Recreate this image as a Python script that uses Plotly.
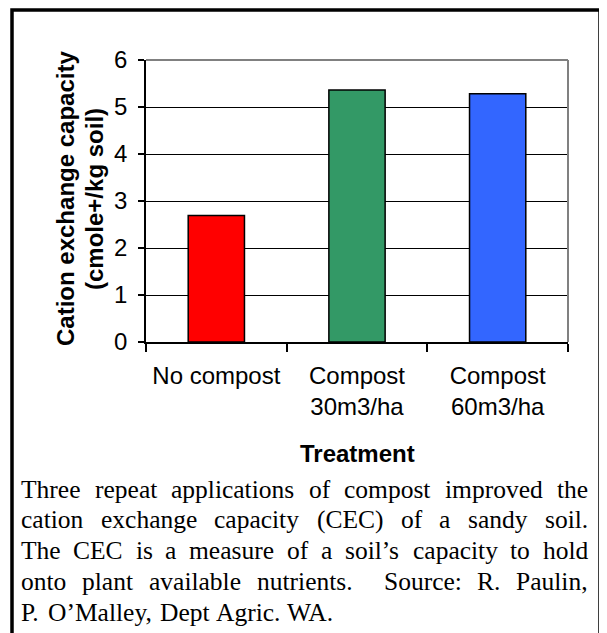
import plotly.graph_objects as go

# ---------------- data ----------------
categories = ["No compost", "Compost<br>30m3/ha", "Compost<br>60m3/ha"]
cec_values = [2.69, 5.36, 5.28]
bar_colors = ["#FF0000", "#339966", "#3366FF"]
y_tick_values = [0, 1, 2, 3, 4, 5, 6]
y_title_lines = ["Cation exchange capacity", "(cmole+/kg soil)"]
x_title = "Treatment"
caption_lines = [
    "Three repeat applications of compost improved the",
    "cation exchange capacity (CEC) of a sandy soil.",
    "The CEC is a measure of a soil\u2019s capacity to hold",
    "onto plant available nutrients.  Source: R. Paulin,",
    "P. O\u2019Malley, Dept Agric. WA.",
]

# ---------------- layout geometry (pixels in the 607x633 window) ----------------
OFF = 8                      # page body margin
WIN_W, WIN_H = 607, 633
FIG_W, FIG_H = WIN_W - OFF, WIN_H - OFF
PL, PR, PT, PB = 146, 568, 60, 342
PW, PH = PR - PL, PB - PT


def px_x(px):
    return (px - PL) / PW


def px_y(py):
    return (PB - py) / PH


# Times / Liberation Serif advance widths (1/1000 em)
TIMES = {' ': 250, ',': 250, '.': 250, '(': 333, ')': 333, ':': 278, '\u2019': 333, "'": 333,
         'A': 722, 'C': 667, 'D': 722, 'E': 611, 'M': 889, 'O': 722, 'P': 556, 'R': 667,
         'S': 556, 'T': 611, 'W': 944,
         'a': 444, 'b': 500, 'c': 444, 'd': 500, 'e': 444, 'f': 333, 'g': 500, 'h': 500,
         'i': 278, 'j': 278, 'k': 500, 'l': 278, 'm': 778, 'n': 500, 'o': 500, 'p': 500,
         'q': 500, 'r': 333, 's': 389, 't': 278, 'u': 500, 'v': 500, 'w': 722, 'x': 500,
         'y': 500, 'z': 444}


def text_w(s, fs):
    return sum(TIMES.get(c, 500) for c in s) * fs / 1000.0


fig = go.Figure()
fig.add_trace(go.Bar(
    x=categories, y=cec_values, width=0.4,
    marker=dict(color=bar_colors, line=dict(color="black", width=1.5)),
    hoverinfo="skip", showlegend=False,
))

SANS = "Arial, Liberation Sans"
annotations = []
# y axis title (two lines, rotated)
for txt, cx in zip(y_title_lines, [65, 94]):
    annotations.append(dict(
        x=px_x(cx), y=px_y(199), xref="paper", yref="paper",
        text="<b>" + txt + "</b>", textangle=-90, showarrow=False,
        xanchor="center", yanchor="middle", borderpad=0,
        font=dict(family=SANS, size=24, color="black")))
# x axis title
annotations.append(dict(
    x=px_x(357), y=px_y(453), xref="paper", yref="paper",
    text="<b>" + x_title + "</b>", showarrow=False,
    xanchor="center", yanchor="middle", borderpad=0,
    font=dict(family=SANS, size=24, color="black")))

# justified caption, word by word
CAP_FS = 25.5
CAP_L, CAP_R = 21, 588
CAP_Y0, CAP_DY = 489, 30.8
for i, line in enumerate(caption_lines):
    words, gaps = [], []
    pending = 0
    for t in line.split(" "):
        if t == "":
            pending += 1
            continue
        if words:
            gaps.append(1 + pending)
        pending = 0
        words.append(t)
    total = sum(text_w(w, CAP_FS) for w in words)
    nsp = sum(gaps)
    if i < len(caption_lines) - 1 and nsp > 0:
        sp = (CAP_R - CAP_L - total) / nsp
    else:
        sp = 0.25 * CAP_FS
    x = CAP_L
    y = CAP_Y0 + i * CAP_DY
    for j, w in enumerate(words):
        annotations.append(dict(
            x=px_x(x), y=px_y(y), xref="paper", yref="paper",
            text=w, showarrow=False, xanchor="left", yanchor="middle",
            borderpad=0, borderwidth=0,
            font=dict(family="Liberation Serif, Times New Roman", size=CAP_FS, color="black")))
        x += text_w(w, CAP_FS)
        if j < len(gaps):
            x += gaps[j] * sp

shapes = [
    # outer frame (open at bottom)
    dict(type="path", xref="paper", yref="paper",
         path=f"M {px_x(12)} {px_y(700)} L {px_x(12)} {px_y(10)} L {px_x(600)} {px_y(10)} L {px_x(600)} {px_y(700)}",
         line=dict(color="black", width=3.5)),
    # grey plot-area border top/right
    dict(type="line", xref="paper", yref="paper", x0=0, x1=1, y0=1, y1=1,
         line=dict(color="#808080", width=2)),
    dict(type="line", xref="paper", yref="paper", x0=1, x1=1, y0=0, y1=1,
         line=dict(color="#808080", width=2)),
]

fig.update_layout(
    width=FIG_W, height=FIG_H,
    margin=dict(l=PL - OFF, r=FIG_W - (PR - OFF), t=PT - OFF, b=FIG_H - (PB - OFF), pad=0),
    paper_bgcolor="white", plot_bgcolor="white",
    bargap=0.6,
    annotations=annotations, shapes=shapes,
    font=dict(family=SANS, color="black"),
)
fig.update_xaxes(
    type="category", tickson="boundaries", ticks="outside", ticklen=8, tickwidth=1.5,
    tickcolor="black", showline=True, linecolor="black", linewidth=1.5,
    showgrid=False, tickfont=dict(family=SANS, size=24, color="black"),
    range=[-0.5, 2.5], ticklabelstandoff=11,
)
fig.update_yaxes(
    range=[0, 6], tickvals=y_tick_values, ticks="outside", ticklen=6, tickwidth=1.5,
    tickcolor="black", showline=True, linecolor="black", linewidth=1.5,
    showgrid=True, gridcolor="black", gridwidth=1.2, zeroline=False,
    tickfont=dict(family=SANS, size=24, color="black"),
    ticklabelstandoff=6,
)

fig.write_html("out.html")
